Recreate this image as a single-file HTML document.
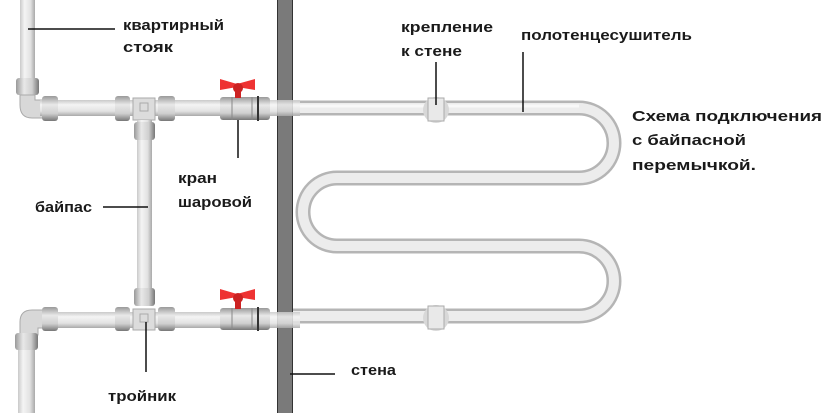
<!DOCTYPE html>
<html><head><meta charset="utf-8"><style>
html,body{margin:0;padding:0;background:#fff;width:824px;height:413px;overflow:hidden}
text{font-family:"Liberation Sans","DejaVu Sans",sans-serif;font-weight:bold;fill:#1a1a1a;font-size:15px}
</style></head><body>
<svg width="824" height="413" viewBox="0 0 824 413" xmlns="http://www.w3.org/2000/svg">
<defs>
<linearGradient id="gh" x1="0" y1="0" x2="0" y2="1">
<stop offset="0" stop-color="#c9c9c9"/><stop offset="0.3" stop-color="#f4f4f4"/><stop offset="0.7" stop-color="#e2e2e2"/><stop offset="1" stop-color="#a9a9a9"/></linearGradient>
<linearGradient id="gv" x1="0" y1="0" x2="1" y2="0">
<stop offset="0" stop-color="#c9c9c9"/><stop offset="0.3" stop-color="#f4f4f4"/><stop offset="0.7" stop-color="#e2e2e2"/><stop offset="1" stop-color="#a9a9a9"/></linearGradient>
<linearGradient id="ch" x1="0" y1="0" x2="0" y2="1">
<stop offset="0" stop-color="#999"/><stop offset="0.35" stop-color="#e8e8e8"/><stop offset="0.7" stop-color="#cfcfcf"/><stop offset="1" stop-color="#777"/></linearGradient>
<linearGradient id="cv" x1="0" y1="0" x2="1" y2="0">
<stop offset="0" stop-color="#999"/><stop offset="0.35" stop-color="#e8e8e8"/><stop offset="0.7" stop-color="#cfcfcf"/><stop offset="1" stop-color="#777"/></linearGradient>
</defs>

<path d="M285 108 H579 A35 35 0 0 1 579 178 H337 A34 34 0 0 0 337 246 H579 A35 35 0 0 1 579 316 H285" fill="none" stroke="#b5b5b5" stroke-width="15"/>
<path d="M285 108 H579 A35 35 0 0 1 579 178 H337 A34 34 0 0 0 337 246 H579 A35 35 0 0 1 579 316 H285" fill="none" stroke="#ececec" stroke-width="10"/>
<path d="M285 106 H579" fill="none" stroke="#f8f8f8" stroke-width="3"/>
<circle cx="436" cy="110" r="13" fill="#d8d8d8"/>
<rect x="428" y="98" width="16" height="23" fill="#e9e9e9" stroke="#aaa"/>
<circle cx="436" cy="318" r="13" fill="#d8d8d8"/>
<rect x="428" y="306" width="16" height="23" fill="#e9e9e9" stroke="#aaa"/>

<rect x="277" y="0" width="16" height="413" fill="#7a7a7a"/>
<line x1="277.5" y1="0" x2="277.5" y2="413" stroke="#333"/>
<line x1="292.5" y1="0" x2="292.5" y2="413" stroke="#333"/>
<rect x="270" y="100" width="30" height="16" fill="url(#gh)" opacity="0.85"/>
<rect x="270" y="312" width="30" height="16" fill="url(#gh)" opacity="0.85"/>

<rect x="20" y="0" width="15" height="100" fill="url(#gv)"/>
<rect x="16" y="78" width="23" height="17" rx="3" fill="url(#cv)"/>
<path d="M20 95 H35 V100 Q35 100 40 100 H45 V118 H32 Q20 118 20 105 Z" fill="#d8d8d8" stroke="#aaa"/>
<rect x="40" y="100" width="230" height="16" fill="url(#gh)"/>
<rect x="42" y="96" width="16" height="25" rx="3" fill="url(#ch)"/>
<rect x="115" y="96" width="15" height="25" rx="3" fill="url(#ch)"/>
<rect x="158" y="96" width="17" height="25" rx="3" fill="url(#ch)"/>
<rect x="133" y="98" width="22" height="22" fill="#dcdcdc" stroke="#aaa"/>
<rect x="140" y="103" width="8" height="8" fill="none" stroke="#aaa"/>
<rect x="137" y="120" width="15" height="180" fill="url(#gv)"/>
<rect x="134" y="122" width="21" height="18" rx="3" fill="url(#cv)"/>
<rect x="220" y="97" width="50" height="23" rx="3" fill="url(#ch)"/>
<line x1="232" y1="97" x2="232" y2="120" stroke="#888"/>
<line x1="252" y1="97" x2="252" y2="120" stroke="#888"/>
<line x1="258" y1="96" x2="258" y2="121" stroke="#333" stroke-width="2"/>
<rect x="235" y="90" width="6" height="8" fill="#c22"/>
<path d="M220 79 L237 84 L255 79 L255 90 L237 87 L220 90 Z" fill="#e33"/>
<circle cx="238" cy="88" r="5" fill="#c22"/>

<rect x="40" y="312" width="230" height="16" fill="url(#gh)"/>
<path d="M20 335 V322 Q20 310 32 310 H45 V328 H38 V335 Z" fill="#d8d8d8" stroke="#aaa"/>
<rect x="18" y="340" width="17" height="73" fill="url(#gv)"/>
<rect x="15" y="333" width="23" height="17" rx="3" fill="url(#cv)"/>
<rect x="42" y="307" width="16" height="24" rx="3" fill="url(#ch)"/>
<rect x="115" y="307" width="15" height="24" rx="3" fill="url(#ch)"/>
<rect x="158" y="307" width="17" height="24" rx="3" fill="url(#ch)"/>
<rect x="133" y="309" width="22" height="21" fill="#dcdcdc" stroke="#aaa"/>
<rect x="140" y="314" width="8" height="8" fill="none" stroke="#aaa"/>
<rect x="134" y="288" width="21" height="18" rx="3" fill="url(#cv)"/>
<rect x="220" y="308" width="50" height="22" rx="3" fill="url(#ch)"/>
<line x1="232" y1="308" x2="232" y2="330" stroke="#888"/>
<line x1="252" y1="308" x2="252" y2="330" stroke="#888"/>
<line x1="258" y1="307" x2="258" y2="331" stroke="#333" stroke-width="2"/>
<rect x="235" y="300" width="6" height="9" fill="#c22"/>
<path d="M220 289 L237 294 L255 289 L255 300 L237 297 L220 300 Z" fill="#e33"/>
<circle cx="238" cy="298" r="5" fill="#c22"/>

<g stroke="#111" stroke-width="1.5">
<line x1="28" y1="29" x2="115" y2="29"/>
<line x1="436" y1="62" x2="436" y2="105"/>
<line x1="523" y1="52" x2="523" y2="112"/>
<line x1="238" y1="120" x2="238" y2="158"/>
<line x1="103" y1="207" x2="148" y2="207"/>
<line x1="146" y1="322" x2="146" y2="372"/>
<line x1="290" y1="374" x2="335" y2="374"/>
</g>

<text x="123" y="30" textLength="101" lengthAdjust="spacingAndGlyphs">квартирный</text>
<text x="123" y="52" textLength="50" lengthAdjust="spacingAndGlyphs">стояк</text>
<text x="401" y="32" textLength="92" lengthAdjust="spacingAndGlyphs">крепление</text>
<text x="401" y="56" textLength="61" lengthAdjust="spacingAndGlyphs">к стене</text>
<text x="521" y="40" textLength="171" lengthAdjust="spacingAndGlyphs">полотенцесушитель</text>
<text x="632" y="121" font-size="16" textLength="190" lengthAdjust="spacingAndGlyphs">Схема подключения</text>
<text x="632" y="145" font-size="16" textLength="114" lengthAdjust="spacingAndGlyphs">с байпасной</text>
<text x="632" y="170" font-size="16" textLength="124" lengthAdjust="spacingAndGlyphs">перемычкой.</text>
<text x="35" y="212" textLength="57" lengthAdjust="spacingAndGlyphs">байпас</text>
<text x="178" y="183" textLength="39" lengthAdjust="spacingAndGlyphs">кран</text>
<text x="178" y="207" textLength="74" lengthAdjust="spacingAndGlyphs">шаровой</text>
<text x="108" y="401" textLength="68" lengthAdjust="spacingAndGlyphs">тройник</text>
<text x="351" y="375" textLength="45" lengthAdjust="spacingAndGlyphs">стена</text>
</svg>
</body></html>
